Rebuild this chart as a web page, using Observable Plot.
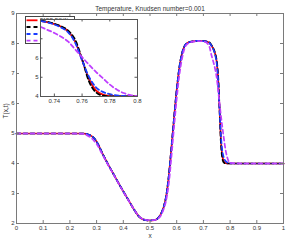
<!DOCTYPE html>
<html><head><meta charset="utf-8">
<script src="https://cdn.jsdelivr.net/npm/d3@7"></script>
<script src="https://cdn.jsdelivr.net/npm/@observablehq/plot@0.6"></script>
<style>
body{margin:0;background:#fff;}
#wrap{position:relative;width:287px;height:241px;overflow:hidden;font-family:"Liberation Sans",Arial,sans-serif;}
#wrap svg{position:absolute;}
</style></head><body><div id="wrap"></div>
<script>
const titleText = "Temperature, Knudsen number=0.001";
const xLabel = "x";
const yLabel = "T(x,t)";
const xs = [0,0.1,0.2,0.25,0.26,0.27,0.28,0.29,0.3,0.32,0.34,0.36,0.38,0.4,0.42,0.44,0.46,0.48,0.5,0.52,0.53,0.54,0.55,0.56,0.57,0.58,0.59,0.6,0.61,0.62,0.63,0.64,0.66,0.68,0.7,0.72,0.73,0.735,0.74,0.745,0.75,0.755,0.76,0.765,0.77,0.775,0.78,0.785,0.79,0.795,0.8,0.85,0.9,1];
const tRed = [5,5,5,5,4.99,4.96,4.92,4.85,4.73,4.37,4.02,3.7,3.38,3.07,2.77,2.47,2.22,2.12,2.1,2.12,2.18,2.3,2.52,2.88,3.55,4.5,5.5,6.45,7.2,7.68,7.92,8.02,8.07,8.09,8.08,8.04,7.93,7.86,7.76,7.62,7.38,6.85,5.9,4.9,4.32,4.1,4.03,4.01,4,4,4,4,4,4];
const tBlack = [5,5,5,5,4.99,4.96,4.92,4.85,4.73,4.37,4.02,3.7,3.38,3.07,2.77,2.47,2.22,2.12,2.1,2.12,2.18,2.3,2.52,2.88,3.55,4.5,5.5,6.45,7.2,7.68,7.92,8.02,8.07,8.09,8.08,8.05,7.95,7.88,7.78,7.64,7.42,6.95,5.95,4.78,4.22,4.05,4.01,4,4,4,4,4,4,4];
const tBlue = [5,5,5,5,4.99,4.96,4.92,4.85,4.73,4.37,4.02,3.7,3.38,3.07,2.77,2.47,2.22,2.12,2.1,2.12,2.18,2.3,2.52,2.88,3.55,4.5,5.5,6.45,7.2,7.68,7.92,8.02,8.07,8.09,8.08,8.04,7.93,7.85,7.74,7.58,7.33,6.8,5.88,5.02,4.48,4.24,4.12,4.06,4.03,4.01,4,4,4,4];
const tMagenta = [5,5,5,4.99,4.96,4.91,4.85,4.76,4.65,4.33,4.0,3.69,3.37,3.06,2.76,2.47,2.23,2.13,2.11,2.12,2.16,2.26,2.45,2.75,3.3,4.2,5.2,6.15,6.95,7.5,7.85,7.98,8.06,8.08,8.07,7.95,7.62,7.46,7.3,7.1,6.85,6.45,6.05,5.65,5.28,4.95,4.62,4.36,4.18,4.07,4.02,4,4,4];
const seriesNames = ["FADE-DG(1)","FADE-DG(2)","FADE-DG(3)","FADE-DG(4)"];
const seriesValues = [tRed, tBlack, tBlue, tMagenta];
const seriesColors = ["#ff0000","#000000","#1a3cff","#bf3fff"];
const seriesDash = [null,"4,3","4,3","4,3"];
const xTicks = [0,0.1,0.2,0.3,0.4,0.5,0.6,0.7,0.8,0.9,1];
const yTicks = [2,3,4,5,6,7,8,9];
const insetXDomain = [0.73,0.8];
const insetYDomain = [4,8];
const insetXTicks = [0.74,0.76,0.78,0.8];
const insetYTicks = [4,5,6,7,8];
const insetYLabels = [4,5,6];

const rows = [];
seriesValues.forEach((vals, s) => vals.forEach((t, i) => rows.push({x: xs[i], T: t, s})));

const FONT = "Liberation Sans, Arial, Helvetica, sans-serif";
const AX = "#7a7a7a";
const TXT = "#333";

function lineMarks(clip, sw) {
  return seriesNames.map((n, s) => Plot.line(rows.filter(r => r.s === s), {
    x: "x", y: "T", stroke: seriesColors[s], strokeWidth: sw,
    strokeDasharray: seriesDash[s] || undefined, curve: "monotone-x", clip
  }));
}

const W = 287, H = 241, mL = 16, mR = 4, mT = 13, mB = 18;
const iw = W - mL - mR, ih = H - mT - mB;
const main = Plot.plot({
  width: W, height: H, marginLeft: mL, marginRight: mR, marginTop: mT, marginBottom: mB,
  style: {fontFamily: FONT, fontSize: "6px", background: "transparent", color: TXT, overflow: "visible"},
  x: {domain: [0, 1]},
  y: {domain: [2, 9]},
  marks: [
    ...lineMarks(false, 1.7),
    Plot.frame({stroke: AX, strokeWidth: 1}),
    Plot.tickX(xTicks, {x: d => d, insetTop: ih - 3, stroke: AX}),
    Plot.tickX(xTicks, {x: d => d, insetBottom: ih - 3, stroke: AX}),
    Plot.tickY(yTicks, {y: d => d, insetRight: iw - 3, stroke: AX}),
    Plot.tickY(yTicks, {y: d => d, insetLeft: iw - 3, stroke: AX}),
    Plot.axisX({ticks: xTicks, tickSize: 0, tickPadding: 2, tickFormat: d => String(d), fontSize: 6, fill: TXT, label: null}),
    Plot.axisY({ticks: yTicks, tickSize: 0, tickPadding: 2, tickFormat: d => String(d), fontSize: 6, fill: TXT, label: null}),
    Plot.text([titleText], {frameAnchor: "top", dy: -7, fontSize: 6.5, fill: TXT}),
    Plot.text([xLabel], {frameAnchor: "bottom", dy: 14, fontSize: 6.5, fill: TXT}),
    Plot.text([yLabel], {frameAnchor: "left", dx: -11, rotate: -90, fontSize: 6.5, fill: TXT})
  ]
});
main.style.left = "0px"; main.style.top = "0px";
const wrap = document.getElementById("wrap");
wrap.appendChild(main);

// legend (drawn under the inset, as in the reference)
const leg = d3.create("svg").attr("width", 52).attr("height", 30)
  .style("left", "24px").style("top", "15px");
leg.append("rect").attr("x", 1.5).attr("y", 1.5).attr("width", 49).attr("height", 27)
  .attr("fill", "white").attr("stroke", "#444").attr("stroke-width", 1);
const rowY = [5.3, 12, 19, 25.7];
seriesNames.forEach((n, s) => {
  leg.append("line").attr("x1", 2.5).attr("x2", 13.5).attr("y1", rowY[s]).attr("y2", rowY[s])
    .attr("stroke", seriesColors[s]).attr("stroke-width", 1.8)
    .attr("stroke-dasharray", seriesDash[s]);
  leg.append("text").attr("x", 16).attr("y", rowY[s]).attr("dy", "0.35em")
    .attr("font-size", 5).attr("font-family", FONT).attr("fill", TXT).text(n);
});
wrap.appendChild(leg.node());

// inset
const IW = 110, IH = 92, imL = 10, imR = 3, imT = 5, imB = 10;
const iiw = IW - imL - imR, iih = IH - imT - imB;
const inset = Plot.plot({
  width: IW, height: IH, marginLeft: imL, marginRight: imR, marginTop: imT, marginBottom: imB,
  style: {fontFamily: FONT, fontSize: "6px", background: "transparent", color: TXT, overflow: "visible"},
  x: {domain: insetXDomain},
  y: {domain: insetYDomain},
  marks: [
    Plot.frame({fill: "white", stroke: "none"}),
    ...lineMarks(true, 1.8),
    Plot.frame({stroke: "#555", strokeWidth: 1}),
    Plot.tickX(insetXTicks, {x: d => d, insetTop: iih - 2.5, stroke: "#555"}),
    Plot.tickX(insetXTicks, {x: d => d, insetBottom: iih - 2.5, stroke: "#555"}),
    Plot.tickY(insetYTicks, {y: d => d, insetRight: iiw - 2.5, stroke: "#555"}),
    Plot.tickY(insetYTicks, {y: d => d, insetLeft: iiw - 2.5, stroke: "#555"}),
    Plot.axisX({ticks: insetXTicks, tickSize: 0, tickPadding: 2, tickFormat: d => String(d), fontSize: 6, fill: TXT, label: null}),
    Plot.axisY({ticks: insetYLabels, tickSize: 0, tickPadding: 2, tickFormat: d => String(d), fontSize: 6, fill: TXT, label: null})
  ]
});
inset.style.left = "30px"; inset.style.top = "14px";
wrap.appendChild(inset);
</script>
</body></html>
